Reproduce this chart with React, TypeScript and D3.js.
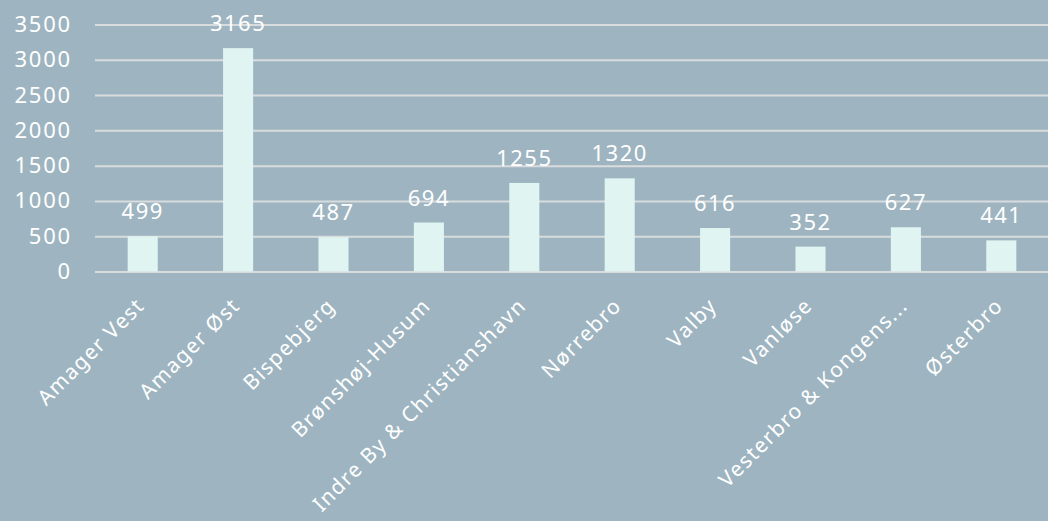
import React, { useEffect, useRef } from 'react';
import { axisLeft, format, scaleBand, scaleLinear, select } from 'd3';

const districts = [
  'Amager Vest',
  'Amager Øst',
  'Bispebjerg',
  'Brønshøj-Husum',
  'Indre By & Christianshavn',
  'Nørrebro',
  'Valby',
  'Vanløse',
  'Vesterbro & Kongens...',
  'Østerbro',
];
const counts = [499, 3165, 487, 694, 1255, 1320, 616, 352, 627, 441];
const yTicks = [0, 500, 1000, 1500, 2000, 2500, 3000, 3500];

const W = 1048;
const H = 521;
const BG = '#9eb5c1';
const BAR = '#e0f4f1';
const GRID = '#d9dcdd';
const FONT = '"Noto Sans", sans-serif';

const App: React.FC = () => {
  const svgRef = useRef<SVGSVGElement>(null);

  useEffect(() => {
    const svg = select(svgRef.current);
    svg.selectAll('*').remove();

    const x = scaleBand<string>()
      .domain(districts)
      .range([95, 1049])
      .paddingInner(0.685)
      .paddingOuter(0.3425);
    const y = scaleLinear().domain([0, 3500]).range([271.5, 24.5]);

    svg.append('rect').attr('width', W).attr('height', H).attr('fill', BG);

    // gridlines + y labels
    const yAxis = axisLeft(y)
      .tickValues(yTicks)
      .tickFormat(format('d'))
      .tickSize(-(1049 - 95))
      .tickPadding(23);
    const gy = svg.append('g').attr('transform', 'translate(95,0)').call(yAxis);
    gy.select('.domain').remove();
    gy.selectAll('.tick line').attr('stroke', GRID).attr('stroke-width', 2);
    gy.selectAll('.tick text')
      .attr('fill', '#ffffff')
      .style('font-family', FONT)
      .style('font-size', '22px')
      .style('letter-spacing', '1.8px');

    // bars
    svg
      .append('g')
      .selectAll('rect')
      .data(counts)
      .join('rect')
      .attr('x', (_, i) => x(districts[i]) as number)
      .attr('y', (d) => y(d))
      .attr('width', x.bandwidth())
      .attr('height', (d) => y(0) - y(d))
      .attr('fill', BAR);

    // value labels
    svg
      .append('g')
      .selectAll('text')
      .data(counts)
      .join('text')
      .attr('x', (_, i) => (x(districts[i]) as number) + x.bandwidth() / 2)
      .attr('y', (d) => y(d) - 17)
      .attr('text-anchor', 'middle')
      .attr('fill', '#ffffff')
      .style('font-family', FONT)
      .style('font-size', '22px')
      .style('letter-spacing', '1.5px')
      .text((d) => d);

    // category labels
    svg
      .append('g')
      .selectAll('text')
      .data(districts)
      .join('text')
      .attr(
        'transform',
        (d) => `translate(${(x(d) as number) + x.bandwidth() / 2 + 3},307) rotate(-45)`,
      )
      .attr('text-anchor', 'end')
      .attr('fill', '#ffffff')
      .style('font-family', FONT)
      .style('font-size', '21px')
      .style('letter-spacing', '1.4px')
      .text((d) => d);
  }, []);

  return (
    <svg
      ref={svgRef}
      width={W}
      height={H}
      style={{ position: 'absolute', left: 0, top: 0 }}
    />
  );
};

export default App;
